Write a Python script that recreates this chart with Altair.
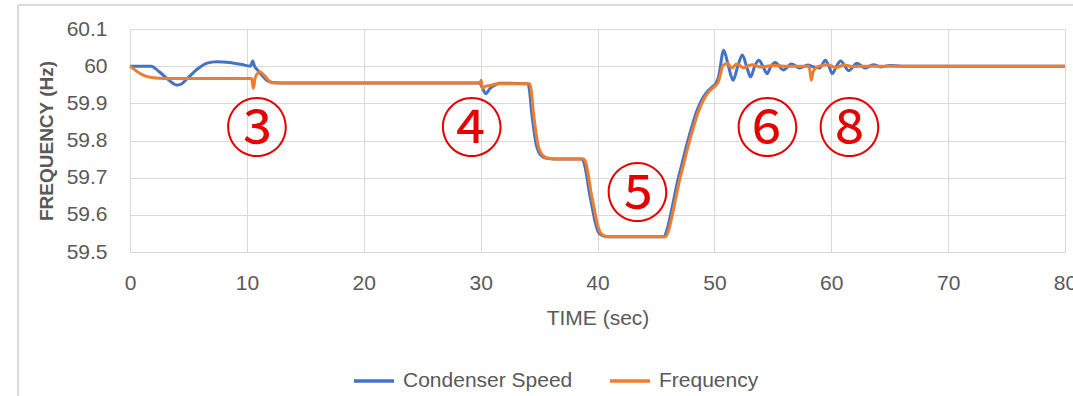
import altair as alt
import pandas as pd

# ---- data ----
speed_t = [0, 1.8, 2.5, 3.3, 4.0, 4.4, 5.0, 5.8, 6.6, 7.4, 8.5, 9.5, 10.3, 10.5, 10.65, 10.9, 11.3, 11.7, 12.2, 13.0,
           29.9, 30.1, 30.45, 30.8, 31.3, 31.6,
           34.05, 34.2, 34.35, 34.55, 34.75, 34.95, 35.25, 35.65, 36.3,
           38.65, 38.85, 39.05, 39.3, 39.55, 39.8, 40.05, 40.35, 40.85,
           45.65, 45.95, 46.25, 46.55, 46.85, 47.25, 47.65, 48.05, 48.45, 48.85, 49.35, 49.85, 50.15, 50.35,
           50.8, 51.2, 51.6, 52.0, 52.4, 52.75, 53.1, 53.45, 53.8, 54.15, 54.5, 54.85, 55.2, 55.9, 56.6, 57.3,
           58.0, 58.5, 59.0, 59.5, 59.8, 60.1, 60.45, 60.8, 61.5, 62.2, 62.9, 63.6, 64.3, 65.0, 66.0, 80]
speed_v = [60.0, 60.0, 59.985, 59.963, 59.949, 59.952, 59.97, 59.993, 60.008, 60.012, 60.01, 60.005, 60.0, 60.014,
           60.0, 59.99, 59.975, 59.962, 59.956, 59.955,
           59.955, 59.945, 59.926, 59.94, 59.95, 59.954,
           59.953, 59.93, 59.88, 59.83, 59.79, 59.77, 59.758, 59.752, 59.75,
           59.75, 59.74, 59.71, 59.66, 59.62, 59.58, 59.555, 59.545, 59.541,
           59.541, 59.56, 59.6, 59.645, 59.69, 59.74, 59.79, 59.835, 59.875, 59.905, 59.93, 59.945, 59.955, 59.97,
           60.043, 60.0, 59.962, 60.0, 60.03, 60.0, 59.971, 60.0, 60.016, 60.0, 59.98, 60.0, 60.01, 59.99, 60.006,
           59.995, 60.003, 59.998, 59.995, 60.016, 60.0, 59.98, 60.0, 60.014, 59.988, 60.008, 59.995, 60.004,
           59.998, 60.002, 60.0, 60.0]

freq_t = [0, 0.5, 1.0, 1.5, 2.0, 3.0, 10.4, 10.55, 10.7, 10.9, 11.1, 11.5, 12.0, 12.5,
          29.95, 30.05, 30.15, 30.35, 30.8, 31.5,
          34.2, 34.35, 34.5, 34.7, 34.9, 35.1, 35.4, 35.8, 36.5,
          38.8, 39.0, 39.2, 39.45, 39.7, 39.95, 40.2, 40.5, 41.0,
          45.8, 46.1, 46.4, 46.7, 47.0, 47.4, 47.8, 48.2, 48.6, 49.0, 49.5, 50.0, 50.3, 50.5, 50.7,
          51.1, 51.5, 51.9, 52.5, 53.2, 54.0, 55.0, 56.0, 58.1, 58.3, 58.45, 58.8, 59.7, 60.4, 61.1, 61.8, 63.0, 80]
freq_v = [60.0, 59.988, 59.978, 59.972, 59.969, 59.967, 59.967, 59.94, 59.967, 59.98, 59.985, 59.975, 59.958, 59.955,
          59.955, 59.962, 59.94, 59.945, 59.948, 59.953,
          59.953, 59.93, 59.88, 59.83, 59.79, 59.77, 59.758, 59.752, 59.75,
          59.75, 59.74, 59.71, 59.66, 59.62, 59.58, 59.555, 59.545, 59.541,
          59.541, 59.56, 59.6, 59.645, 59.69, 59.74, 59.79, 59.835, 59.875, 59.905, 59.93, 59.945, 59.955, 59.975, 60.0,
          60.008, 59.995, 60.006, 59.996, 60.004, 59.998, 60.002, 60.0, 60.0, 59.962, 59.985, 59.998, 60.004,
          59.996, 60.003, 59.999, 60.0, 60.0]

series_names = ["Condenser Speed", "Frequency"]
series_colors = ["#4472C4", "#ED7D31"]

note_labels = ["③", "④", "⑤", "⑥", "⑧"]
note_t = [10.87, 29.24, 43.42, 54.55, 61.56]
note_v = [59.823, 59.823, 59.647, 59.823, 59.823]

x_ticks = [0, 10, 20, 30, 40, 50, 60, 70, 80]
y_ticks = [59.5, 59.6, 59.7, 59.8, 59.9, 60.0, 60.1]

# ---- tables ----
lines = pd.concat([
    pd.DataFrame({"t": speed_t, "v": speed_v, "series": series_names[0]}),
    pd.DataFrame({"t": freq_t, "v": freq_v, "series": series_names[1]}),
])
notes = pd.DataFrame({"label": note_labels, "t": note_t, "v": note_v})

FONT = "Liberation Sans"
GREY = "#595959"

x_scale = alt.Scale(domain=[0, 80], nice=False)
y_scale = alt.Scale(domain=[59.5, 60.1], nice=False, zero=False)

line = alt.Chart(lines).mark_line(strokeWidth=3, interpolate="monotone").encode(
    x=alt.X("t:Q", scale=x_scale,
            axis=alt.Axis(values=x_ticks, tickCount=20, title="TIME (sec)", grid=True, ticks=False,
                          domain=True, domainColor="#d9d9d9", labelPadding=20,
                          titlePadding=14, labelFlush=False, labelOverlap=False)),
    y=alt.Y("v:Q", scale=y_scale,
            axis=alt.Axis(values=y_ticks, tickCount=20, format=".1~f", title="FREQUENCY (Hz)",
                          grid=True, ticks=False, domain=False, labelPadding=23, titlePadding=10,
                          titleFontWeight="bold", titleFontSize=19, labelOverlap=False)),
    color=alt.Color("series:N",
                    scale=alt.Scale(domain=series_names, range=series_colors),
                    legend=alt.Legend(title=None, orient="none", direction="horizontal",
                                      legendX=222, legendY=330, symbolType="stroke",
                                      symbolSize=1600, symbolStrokeWidth=3.5,
                                      labelFontSize=21, labelColor=GREY, labelFont=FONT,
                                      labelOffset=7, columnPadding=30, labelLimit=400)),
    order=alt.Order("series:N"),
)

text = alt.Chart(notes).mark_text(
    font="Noto Sans CJK JP", fontSize=64, color="#e60000", align="center", baseline="middle"
).encode(x=alt.X("t:Q", scale=x_scale), y=alt.Y("v:Q", scale=y_scale), text="label:N")

frame_top = alt.Chart(notes).mark_rule(color="#d9d9d9", strokeWidth=1).encode(
    x=alt.value(-112), x2=alt.value(960), y=alt.value(-24))
frame_left = alt.Chart(notes).mark_rule(color="#d9d9d9", strokeWidth=1).encode(
    x=alt.value(-112), y=alt.value(-24), y2=alt.value(380))

chart = alt.layer(frame_top, frame_left, line, text).properties(
    width=935, height=223,
    autosize=alt.AutoSizeParams(type="none"),
    padding={"left": 130, "top": 29, "right": 8, "bottom": 144},
    background="white",
).configure_view(stroke=None).configure_axis(
    labelFont=FONT, labelFontSize=21, labelColor=GREY,
    titleFont=FONT, titleFontSize=21, titleColor=GREY, titleFontWeight="normal",
    gridColor="#d9d9d9", gridWidth=1,
)

chart.save("out.html", embed_options={"renderer": "svg", "actions": False})
